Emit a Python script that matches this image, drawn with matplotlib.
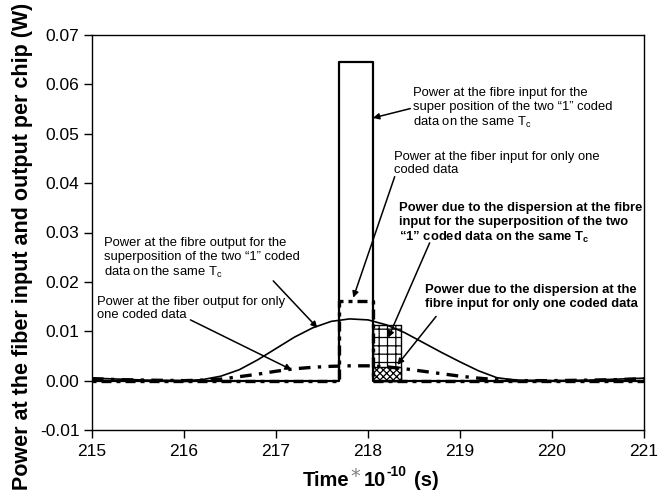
import matplotlib
matplotlib.use('Agg')
import matplotlib.pyplot as plt
from matplotlib.ticker import FormatStrFormatter

plt.rcParams['font.family'] = ['Liberation Sans', 'DejaVu Sans']
plt.rcParams['mathtext.fontset'] = 'custom'
plt.rcParams['mathtext.rm'] = 'Liberation Sans'
plt.rcParams['mathtext.bf'] = 'Liberation Sans:bold'
plt.rcParams['mathtext.it'] = 'Liberation Sans:italic'
plt.rcParams['hatch.linewidth'] = 0.9

# ---- data ----
# fibre input pulses (rectangular chips)
pulse_x = [215.0, 217.69, 217.69, 218.05, 218.05, 221.0]
pulse_two = [0.0, 0.0, 0.0646, 0.0646, 0.0, 0.0]     # superposition of two "1"
pulse_one = [0.0, 0.0, 0.0161, 0.0161, 0.0, 0.0]     # only one coded data

# fibre output (dispersed pulses)
out_x = [215.0, 215.3, 215.6, 216.0, 216.2, 216.4, 216.6, 216.8, 217.0, 217.2,
         217.4, 217.6, 217.8, 218.0, 218.2, 218.4, 218.6, 218.8, 219.0, 219.2,
         219.4, 219.6, 220.0, 220.4, 220.7, 221.0]
out_two = [0.0005, 0.0003, 0.0001, 0.0000, 0.0002, 0.0009, 0.0022, 0.0042, 0.0065, 0.0088,
           0.0107, 0.0120, 0.0125, 0.0123, 0.0113, 0.0097, 0.0077, 0.0057, 0.0038, 0.0020,
           0.0006, 0.0001, 0.0000, 0.0001, 0.0003, 0.0005]
out_one = [0.0004, 0.0002, 0.0001, 0.0000, 0.0001, 0.0003, 0.0008, 0.0013, 0.0019, 0.0024,
           0.0027, 0.0029, 0.0030, 0.0030, 0.0028, 0.0024, 0.0019, 0.0014, 0.0009, 0.0005,
           0.0002, 0.0000, 0.0000, 0.0001, 0.0002, 0.0004]

# dispersion power regions (hatched)
disp_x = [218.05, 218.36]
disp_two_top = 0.0113
disp_one_top = 0.0028

x_ticks = [215, 216, 217, 218, 219, 220, 221]
y_ticks = [-0.01, 0.0, 0.01, 0.02, 0.03, 0.04, 0.05, 0.06, 0.07]

# ---- figure ----
W, H = 672, 496
fig = plt.figure(figsize=(W/100, H/100), dpi=100)
ax = fig.add_axes([92/W, 1-430/H, (644-92)/W, (430-35)/H])

ax.fill_between(disp_x, 0, disp_two_top, facecolor='white', edgecolor='black',
                hatch='++', linewidth=1.0, zorder=1)
ax.fill_between(disp_x, 0, disp_one_top, facecolor='white', edgecolor='black',
                hatch='xxxxx', linewidth=1.0, zorder=1)

ax.plot(pulse_x, pulse_one, color='black', lw=2.4, linestyle=(0, (1.2, 1.5, 3, 1.5)), zorder=3)
ax.plot(pulse_x, pulse_two, color='black', lw=1.6, zorder=3)
ax.plot(out_x, out_two, color='black', lw=1.2, zorder=3)
ax.plot(out_x, out_one, color='black', lw=2.4, linestyle=(0, (3.5, 2.2, 1, 2.2)), zorder=3)

ax.set_xlim(215, 221)
ax.set_ylim(-0.01, 0.07)
ax.set_xticks(x_ticks)
ax.set_yticks(y_ticks)
ax.yaxis.set_major_formatter(FormatStrFormatter('%.2f'))
ax.tick_params(direction='out', length=6, width=1, labelsize=12.5, pad=3)
ax.tick_params(axis='x', pad=4)
for s in ax.spines.values():
    s.set_linewidth(1.0)

fs = 9.4
arrow = dict(arrowstyle='-|>', color='black', lw=1.1, mutation_scale=9,
             shrinkA=0, shrinkB=0)

# annotations
ax.text(218.49, 0.0595,
        'Power at the fibre input for the\nsuper position of the two \u201c1\u201d coded\n'
        'data on the same T$_\\mathregular{c}$', fontsize=fs, va='top', ha='left')
ax.annotate('', xy=(218.054, 0.0532), xytext=(218.46, 0.0551), arrowprops=arrow)

ax.text(218.28, 0.0466, 'Power at the fiber input for only one\ncoded data',
        fontsize=fs, va='top', ha='left')
ax.annotate('', xy=(217.84, 0.0168), xytext=(218.29, 0.0413), arrowprops=arrow)

ax.text(218.34, 0.0362,
        'Power due to the dispersion at the fibre\ninput for the superposition of the two\n'
        '\u201c1\u201d coded data on the same T$_\\mathbf{c}$',
        fontsize=fs, va='top', ha='left', fontweight='bold')
ax.annotate('', xy=(218.22, 0.0087), xytext=(218.67, 0.0279), arrowprops=arrow)

ax.text(218.62, 0.0196,
        'Power due to the dispersion at the\nfibre input for only one coded data',
        fontsize=fs, va='top', ha='left', fontweight='bold')
ax.annotate('', xy=(218.32, 0.0032), xytext=(218.74, 0.0130), arrowprops=arrow)

ax.text(215.13, 0.0291,
        'Power at the fibre output for the\nsuperposition of the two \u201c1\u201d coded\n'
        'data on the same T$_\\mathregular{c}$', fontsize=fs, va='top', ha='left')
ax.annotate('', xy=(217.45, 0.0107), xytext=(216.97, 0.0202), arrowprops=arrow)

ax.text(215.05, 0.0172, 'Power at the fiber output for only\none coded data',
        fontsize=fs, va='top', ha='left')
ax.annotate('', xy=(217.17, 0.0022), xytext=(216.07, 0.0123), arrowprops=arrow)

# y axis label
fig.text(0.034, 0.503, 'Power at the fiber input and output per chip (W)',
         rotation=90, va='center', ha='center', fontsize=15.5, fontweight='bold')

# x axis label, built from pieces (grey asterisk, hyphen exponent)
renderer = fig.canvas.get_renderer()
base = 10  # baseline, pixels from bottom

def piece(s, x, dy=0, **kw):
    t = fig.text(x / W, (base + dy) / H, s, va='baseline', ha='left', **kw)
    return t.get_window_extent(renderer).x1

xl = 303
x = piece('Time', xl, fontsize=14.5, fontweight='bold')
x = piece('*', x + 1, dy=4, fontsize=14, color='#808080', family='DejaVu Sans')
x = piece('10', x + 3, fontsize=14.5, fontweight='bold')
x = piece('-10', x + 1, dy=10, fontsize=10, fontweight='bold')
x = piece('(s)', x + 7, fontsize=14.5, fontweight='bold')

fig.savefig('out.png', dpi=100)
